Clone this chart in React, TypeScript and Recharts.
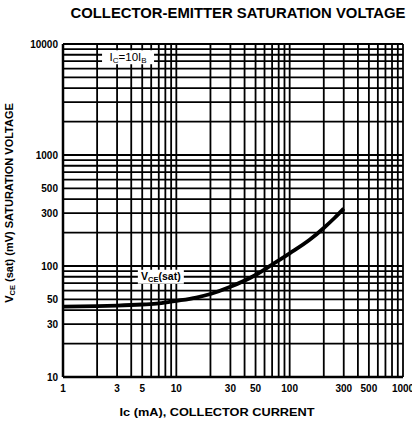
import React from "react";
import { LineChart, Line, XAxis, YAxis, CartesianGrid, ReferenceDot } from "recharts";

// Grid (log decades) and labelled ticks
const xGrid = [1, 2, 3, 4, 5, 6, 7, 8, 9, 10, 20, 30, 40, 50, 60, 70, 80, 90, 100, 200, 300, 400, 500, 600, 700, 800, 900, 1000];
const xLabels = [1, 3, 5, 10, 30, 50, 100, 300, 500, 1000];
const yGrid = [10, 20, 30, 40, 50, 60, 70, 80, 90, 100, 200, 300, 400, 500, 600, 700, 800, 900, 1000, 2000, 3000, 4000, 5000, 6000, 7000, 8000, 9000, 10000];
const yLabels = [10, 30, 50, 100, 300, 500, 1000, 10000];

// Series: collector current (mA) vs V_CE(sat) (mV)
const collectorCurrent = [1, 2, 3, 5, 7, 10, 15, 20, 30, 50, 70, 100, 150, 200, 250, 300];
const vceSat = [43, 43.5, 44, 45, 46, 48.5, 52, 56, 65, 83, 103, 130, 172, 220, 272, 329];

// Annotation anchor points (data coordinates)
const icLabelPos = { ic: 3.75, v: 7600 };
const vceLabelPos = { ic: 7.3, v: 80 };

const data = collectorCurrent.map((ic, i) => ({ ic, v: vceSat[i] }));

const FONT = "'Liberation Sans', Arial, Helvetica, sans-serif";

const IcBox = (props: any) => {
  const { cx, cy } = props;
  if (cx == null || cy == null) return null;
  return (
    <g>
      <rect x={cx - 26} y={cy - 7} width={52} height={14} fill="#fff" />
      <text x={cx} y={cy + 4} textAnchor="middle" fontFamily={FONT} fontSize={11.5} fill="#000">
        I<tspan fontSize={8} dy={2}>C</tspan>
        <tspan dy={-2}>=10I</tspan>
        <tspan fontSize={8} dy={2}>B</tspan>
      </text>
    </g>
  );
};

const VceBox = (props: any) => {
  const { cx, cy } = props;
  if (cx == null || cy == null) return null;
  return (
    <g>
      <rect x={cx - 23} y={cy - 7} width={46} height={14} fill="#fff" />
      <text x={cx} y={cy + 3.5} textAnchor="middle" fontFamily={FONT} fontSize={10.5} fontWeight="bold" fill="#000">
        V<tspan fontSize={7.5} dy={2}>CE</tspan>
        <tspan dy={-2}>(sat)</tspan>
      </text>
    </g>
  );
};

export default function App() {
  const tickStyle = { fontFamily: FONT, fontSize: 10, fontWeight: "bold", fill: "#000" } as any;
  return (
    <div style={{ position: "absolute", left: 0, top: 0, width: 412, height: 430, background: "#fff" }}>
      <LineChart
        width={412}
        height={430}
        data={data}
        margin={{ top: 44, right: 9, bottom: 23, left: 0 }}
      >
        <CartesianGrid stroke="#000" strokeWidth={1.8} horizontalValues={yGrid} verticalValues={xGrid} />
        <XAxis
          dataKey="ic"
          type="number"
          scale="log"
          domain={[1, 1000]}
          ticks={xGrid}
          interval={0}
          allowDataOverflow
          tickLine={false}
          tickSize={6}
          axisLine={{ stroke: "#000", strokeWidth: 2.5 }}
          tick={tickStyle}
          tickFormatter={(v: number) => (xLabels.includes(v) ? String(v) : "")}
          height={30}
        />
        <YAxis
          type="number"
          scale="log"
          domain={[10, 10000]}
          ticks={yGrid}
          interval={0}
          allowDataOverflow
          tickLine={false}
          tickSize={3}
          width={63}
          axisLine={{ stroke: "#000", strokeWidth: 2.5 }}
          tick={tickStyle}
          tickFormatter={(v: number) => (yLabels.includes(v) ? String(v) : "")}
        />
        <ReferenceDot x={icLabelPos.ic} y={icLabelPos.v} r={0} shape={IcBox} />
        <ReferenceDot x={vceLabelPos.ic} y={vceLabelPos.v} r={0} shape={VceBox} />
        <Line
          dataKey="v"
          type="monotone"
          stroke="#000"
          strokeWidth={3.8}
          dot={false}
          isAnimationActive={false}
        />
      </LineChart>
      <svg width={412} height={430} style={{ position: "absolute", left: 0, top: 0, pointerEvents: "none" }}>
        <text x={238} y={18} textAnchor="middle" fontFamily={FONT} fontSize={14} fontWeight="bold" fill="#000" textLength={335} lengthAdjust="spacingAndGlyphs">
          COLLECTOR-EMITTER SATURATION VOLTAGE
        </text>
        <text x={217} y={416} textAnchor="middle" fontFamily={FONT} fontSize={11} fontWeight="bold" fill="#000" textLength={195} lengthAdjust="spacingAndGlyphs">
          Ic (mA), COLLECTOR CURRENT
        </text>
        <text transform="translate(13, 203) rotate(-90)" textAnchor="middle" fontFamily={FONT} fontSize={11} fontWeight="bold" fill="#000">
          V<tspan fontSize={7.5} dy={2}>CE</tspan>
          <tspan dy={-2}> (sat) (mV) SATURATION VOLTAGE</tspan>
        </text>
      </svg>
    </div>
  );
}
